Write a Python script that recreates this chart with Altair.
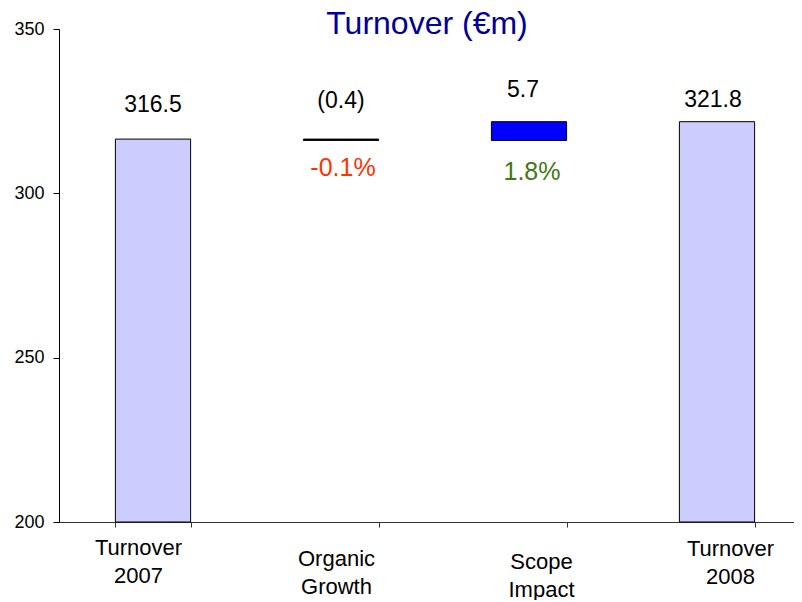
import altair as alt
import pandas as pd

# ---- data ----
chart_title = "Turnover (€m)"
categories = ["Turnover 2007", "Organic Growth", "Scope Impact", "Turnover 2008"]
values = [316.5, -0.4, 5.7, 321.8]
kinds = ["total", "change", "change", "total"]
value_labels = ["316.5", "(0.4)", "5.7", "321.8"]
pct_labels = ["", "-0.1%", "1.8%", ""]
axis_min, axis_max = 200, 350
y_ticks = [200, 250, 300, 350]

# ---- build the waterfall table ----
rows = []
running = 0.0
for c, v, k, lab, p in zip(categories, values, kinds, value_labels, pct_labels):
    if k == "total":
        low, high = axis_min, v
        running = v
        sign = "total"
    else:
        start = running
        running = running + v
        low, high = min(start, running), max(start, running)
        sign = "neg" if v < 0 else "pos"
    rows.append(dict(cat=c, low=low, high=high, label=lab, pct=p, sign=sign))
df = pd.DataFrame(rows)

FONT = "Liberation Sans"

x_scale = alt.Scale(range=[0, 752], paddingInner=0.6, paddingOuter=0.3)
y_scale = alt.Scale(domain=[axis_min, axis_max], nice=False, zero=False)

x_enc = alt.X(
    "cat:N",
    sort=categories,
    scale=x_scale,
    axis=alt.Axis(
        title=None,
        labelAngle=0,
        labelFont=FONT,
        labelFontSize=22,
        labelColor="#000000",
        labelExpr="split(datum.label, ' ')",
        labelLineHeight=28,
        labelBaseline="top",
        labelPadding={
            "condition": [
                {"test": "datum.value == 'Organic Growth'", "value": 21},
                {"test": "datum.value == 'Scope Impact'", "value": 24},
                {"test": "datum.value == 'Turnover 2008'", "value": 11},
            ],
            "value": 10,
        },
        labelOffset={
            "condition": [
                {"test": "datum.value == 'Turnover 2007'", "value": -15},
                {"test": "datum.value == 'Organic Growth'", "value": -5},
                {"test": "datum.value == 'Scope Impact'", "value": 12},
            ],
            "value": 13,
        },
        tickBand="extent",
        tickSize=5,
        tickColor="#333333",
        domainColor="#333333",
        grid=False,
    ),
)

bars = alt.Chart(df).mark_bar(stroke="#000000", strokeWidth=1).encode(
    x=x_enc,
    y=alt.Y(
        "low:Q",
        scale=y_scale,
        axis=alt.Axis(
            title=None,
            values=y_ticks,
            labelFont=FONT,
            labelFontSize=18,
            labelColor="#000000",
            labelPadding=9,
            tickSize=6,
            tickColor="#000000",
            domainColor="#000000",
            grid=False,
        ),
    ),
    y2="high:Q",
    color=alt.Color(
        "sign:N",
        scale=alt.Scale(domain=["total", "neg", "pos"], range=["#CCCCFF", "#000000", "#0000FF"]),
        legend=None,
    ),
)

value_text = alt.Chart(df).mark_text(
    font=FONT,
    fontSize=23,
    color="#000000",
    baseline="middle",
    dy={"expr": "datum.cat == 'Turnover 2007' ? -34 : datum.cat == 'Organic Growth' ? -38 : datum.cat == 'Scope Impact' ? -32 : -22"},
    dx={"expr": "datum.cat == 'Scope Impact' ? -6 : datum.cat == 'Turnover 2008' ? -4 : 0"},
).encode(
    x=alt.X("cat:N", sort=categories),
    y=alt.Y("high:Q"),
    text="label:N",
)

pct_text = alt.Chart(df).transform_filter("datum.pct != ''").mark_text(
    font=FONT,
    fontSize=25,
    baseline="middle",
    dy={"expr": "datum.sign == 'neg' ? 28 : 32"},
    dx={"expr": "datum.sign == 'neg' ? 2 : 3"},
).encode(
    x=alt.X("cat:N", sort=categories),
    y=alt.Y("low:Q"),
    text="pct:N",
    color=alt.Color(
        "sign:N",
        scale=alt.Scale(domain=["neg", "pos"], range=["#FF3300", "#3F7A10"]),
        legend=None,
    ),
)

title_text = alt.Chart(pd.DataFrame({"t": [chart_title]})).mark_text(
    font=FONT,
    fontSize=32,
    color="#000099",
    align="center",
    baseline="alphabetic",
).encode(
    x=alt.value(368),
    y=alt.value(5),
    text="t:N",
)

chart = (
    alt.layer(bars, value_text, pct_text, title_text)
    .resolve_scale(color="independent")
    .properties(
        width=735,
        height=493,
        background="white",
        autosize=alt.AutoSizeParams(type="none"),
        padding={"left": 51, "top": 21, "right": 0, "bottom": 78},
    )
    .configure_view(strokeWidth=0, stroke="transparent", strokeOpacity=0)
    .configure_axis(grid=False)
)

chart.save("out.html", embed_options={"renderer": "svg", "actions": False})
